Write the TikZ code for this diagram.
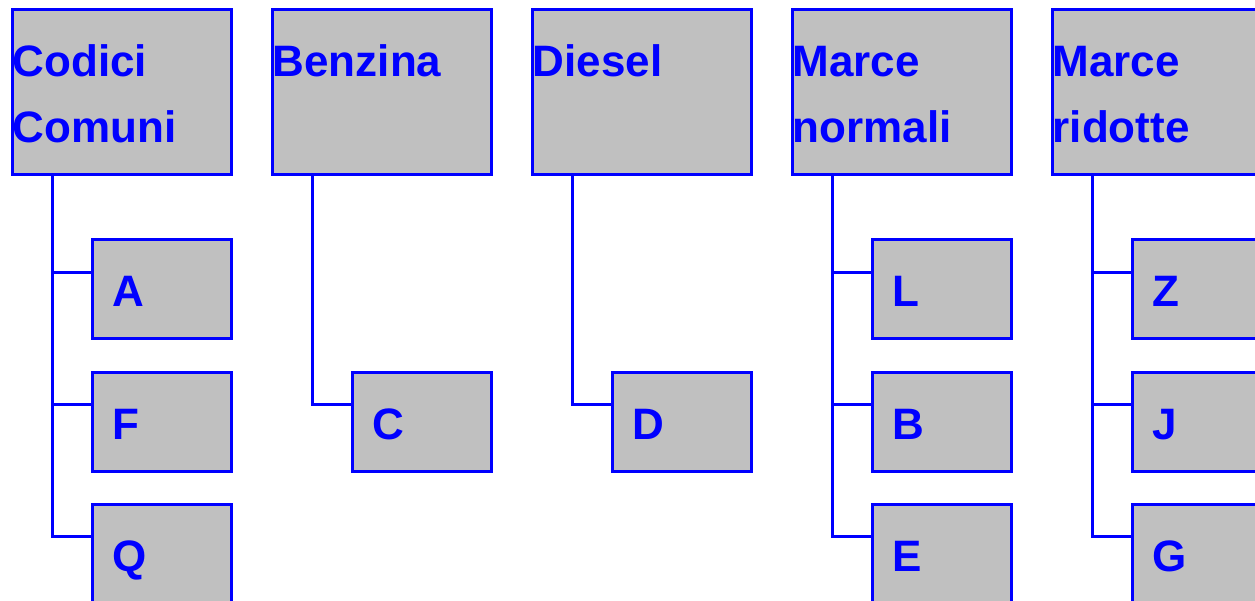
\documentclass[tikz,border=0pt]{standalone}
\usepackage{fontspec}
\setmainfont{Liberation Sans}
\usetikzlibrary{calc}
\definecolor{boxgray}{RGB}{192,192,192}
\definecolor{lineblue}{RGB}{0,0,255}
\begin{document}
\begin{tikzpicture}[x=1pt,y=-1pt,
  headbox/.style={draw=lineblue,fill=boxgray,line width=3pt,inner sep=0pt,outer sep=0pt,
    minimum width=219pt,minimum height=165pt,anchor=north west},
  itembox/.style={draw=lineblue,fill=boxgray,line width=3pt,inner sep=0pt,outer sep=0pt,
    minimum width=139pt,minimum height=99pt,anchor=north west},
  lbl/.style={text=lineblue,font=\fontsize{44}{52}\bfseries\selectfont,inner sep=0pt,anchor=base west},
  link/.style={draw=lineblue,line width=3pt}]
\useasboundingbox (0,0) rectangle (1255,601);
\clip (0,0) rectangle (1255,601);

% header boxes
\node[headbox] (cc) at (12,10) {};
\node[headbox] (bz) at (272,10) {};
\node[headbox] (ds) at (532,10) {};
\node[headbox] (mn) at (792,10) {};
\node[headbox] (mr) at (1052,10) {};

\node[lbl] (cc1) at (12.5,77) {Codici};
\node[lbl] (cc2) at (12.5,143) {Comuni};
\node[lbl] (bz1) at (272.5,77) {Benzina};
\node[lbl] (ds1) at (532.5,77) {Diesel};
\node[lbl] (mn1) at (792.5,77) {Marce};
\node[lbl] (mn2) at (792.5,143) {normali};
\node[lbl] (mr1) at (1052.5,77) {Marce};
\node[lbl] (mr2) at (1052.5,143) {ridotte};

% item boxes
\node[itembox] (A) at (92,240) {};
\node[itembox] (F) at (92,372) {};
\node[itembox] (Q) at (92,504) {};
\node[itembox] (C) at (352,372) {};
\node[itembox] (D) at (612,372) {};
\node[itembox] (L) at (872,240) {};
\node[itembox] (B) at (872,372) {};
\node[itembox] (E) at (872,504) {};
\node[itembox] (Z) at (1132,240) {};
\node[itembox] (J) at (1132,372) {};
\node[itembox] (G) at (1132,504) {};

\foreach \n in {A,F,Q,C,D,L,B,E,Z,J,G}{
  \node[lbl] (t\n) at ([xshift=20pt,yshift=-67pt]\n.north west) {\n};
}

% connectors: trunk from each header, branch into each item at one third of its height
\foreach \h/\items in {cc/{A,F,Q},bz/{C},ds/{D},mn/{L,B,E},mr/{Z,J,G}}{
  \foreach \i in \items{
    \draw[link] ([xshift=40pt]\h.south west) |- ($(\i.north west)!0.33!(\i.south west)$);
  }
}
\end{tikzpicture}
\end{document}
